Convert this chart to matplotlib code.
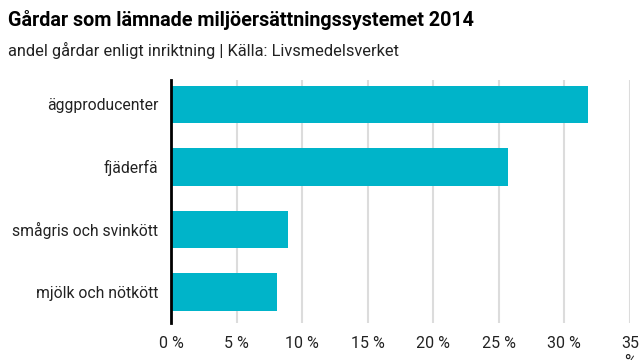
import matplotlib.pyplot as plt

categories = ['äggproducenter', 'fjäderfä', 'smågris och svinkött', 'mjölk och nötkött']
values = [31.8, 25.7, 8.9, 8.1]
xticks = [0, 5, 10, 15, 20, 25, 30, 35]
xticklabels = ['0 %', '5 %', '10 %', '15 %', '20 %', '25 %', '30 %', '35\n%']

plt.rcParams['font.family'] = ['Roboto', 'DejaVu Sans']

fig = plt.figure(figsize=(6.4, 3.6), dpi=100)
ax = fig.add_axes([171 / 640, 1 - 323 / 360, (630 - 171) / 640, (323 - 80) / 360])

ax.barh(range(len(categories)), values, height=0.6, color='#00b4c9', zorder=3)
ax.set_xlim(0, 35)
ax.set_ylim(3.5, -0.39)

ax.set_xticks(xticks)
ax.set_xticklabels(xticklabels, fontsize=11.5, color='#222222', va='top', linespacing=1.3)
ax.set_yticks(range(len(categories)))
ax.set_yticklabels(categories, fontsize=11.3, color='#222222')
ax.tick_params(axis='both', length=0)
ax.tick_params(axis='x', pad=9)
ax.tick_params(axis='y', pad=9)

ax.grid(axis='x', color='#dcdcdc', linewidth=1.5, zorder=0)
for s in ['top', 'right', 'bottom']:
    ax.spines[s].set_visible(False)
ax.spines['left'].set_linewidth(2)
ax.spines['left'].set_color('black')
ax.spines['left'].set_zorder(4)

fig.text(8 / 640, 1 - 20 / 360, 'Gårdar som lämnade miljöersättningssystemet 2014',
         fontsize=14.2, fontweight='bold', va='center', ha='left', color='black')
fig.text(8 / 640, 1 - 50 / 360, 'andel gårdar enligt inriktning | Källa: Livsmedelsverket',
         fontsize=11.8, va='center', ha='left', color='#222222')

fig.savefig('out.png', dpi=100)
